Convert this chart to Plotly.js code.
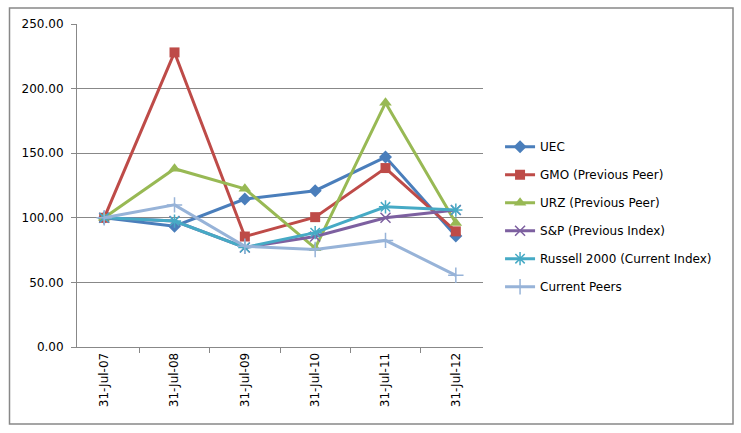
<!DOCTYPE html>
<html>
<head>
<meta charset="utf-8">
<script src="https://cdn.plot.ly/plotly-3.0.1.min.js"></script>
<style>
  html, body { margin: 0; padding: 0; background: #fff; }
  #chart_div { width: 741px; height: 433px; }
</style>
</head>
<body>
<div id="chart_div"></div>
<script>
// dates on the x axis
var dates = ["31-Jul-07", "31-Jul-08", "31-Jul-09", "31-Jul-10", "31-Jul-11", "31-Jul-12"];

// indexed values
var uec     = [100, 93.5, 114.5, 121, 147, 86];
var gmo     = [100, 228, 85.5, 100.5, 138.5, 89.5];
var urz     = [100, 138, 122.5, 76.5, 189, 96];
var sp      = [100, 97.5, 77, 85.5, 100, 106];
var russell = [100, 97.5, 77, 88.5, 108.5, 106];
var peers   = [100, 110, 78, 75.5, 82.5, 55.5];

var yTicks = [0, 50, 100, 150, 200, 250];

function drawChart() {

  var data = [
    {
      type: "scatter", mode: "lines+markers", name: "UEC", legendgroup: "a",
      x: dates, y: uec,
      line: {color: "#4A7EBB", width: 3},
      marker: {symbol: "diamond", size: 10, color: "#4A7EBB"}
    },
    {
      type: "scatter", mode: "lines+markers", name: "GMO (Previous Peer)", legendgroup: "b",
      x: dates, y: gmo,
      line: {color: "#BE4B48", width: 3},
      marker: {symbol: "square", size: 10, color: "#BE4B48"}
    },
    {
      type: "scatter", mode: "lines+markers", name: "URZ (Previous Peer)", legendgroup: "c",
      x: dates, y: urz,
      line: {color: "#98B954", width: 3},
      marker: {symbol: "triangle-up", size: 11, color: "#98B954"}
    },
    {
      type: "scatter", mode: "lines+markers", name: "S&P (Previous Index)", legendgroup: "d",
      x: dates, y: sp,
      line: {color: "#7D60A0", width: 3},
      marker: {symbol: "x-thin-open", size: 10, color: "#7D60A0", line: {width: 1.5, color: "#7D60A0"}}
    },
    {
      type: "scatter", mode: "lines+markers", name: "Russell 2000 (Current Index)", legendgroup: "e",
      x: dates, y: russell,
      line: {color: "#46AAC5", width: 3},
      marker: {symbol: "asterisk-open", size: 11, color: "#46AAC5", line: {width: 1.5, color: "#46AAC5"}}
    },
    {
      type: "scatter", mode: "lines+markers", name: "Current Peers", legendgroup: "f",
      x: dates, y: peers,
      line: {color: "#97B3D8", width: 3},
      marker: {symbol: "cross-thin-open", size: 11, color: "#97B3D8", line: {width: 1.5, color: "#97B3D8"}}
    }
  ];

  var layout = {
    width: 741,
    height: 433,
    margin: {l: 77, r: 258, t: 24, b: 86, pad: 0},
    paper_bgcolor: "#fff",
    plot_bgcolor: "#fff",
    font: {family: "'DejaVu Sans', sans-serif", size: 12, color: "#000"},
    showlegend: true,
    legend: {
      x: 1.042, y: 0.665, xanchor: "left", yanchor: "top",
      font: {size: 12, color: "#000"},
      tracegroupgap: 9,
      itemwidth: 30
    },
    xaxis: {
      type: "category",
      tickangle: -90,
      ticks: "outside", ticklen: 5, tickcolor: "#888",
      tickson: "boundaries",
      showline: true, linecolor: "#888", linewidth: 1,
      showgrid: false, zeroline: false,
      tickfont: {size: 12}
    },
    yaxis: {
      range: [0, 250],
      tickvals: yTicks,
      tickformat: ".2f",
      ticks: "outside", ticklen: 5, tickcolor: "#888",
      ticklabelstandoff: 5,
      showline: true, linecolor: "#888", linewidth: 1,
      showgrid: true, gridcolor: "#888", gridwidth: 1,
      zeroline: false,
      tickfont: {size: 12}
    },
    shapes: [
      {
        type: "rect", xref: "paper", yref: "paper",
        x0: (9.5 - 77) / 406, x1: (733 - 77) / 406,
        y0: (347 - 424) / 323, y1: (347 - 8) / 323,
        line: {color: "#888", width: 1.5}
      }
    ]
  };

  Plotly.newPlot('chart_div', data, layout, {displayModeBar: false});
}

drawChart();
</script>
</body>
</html>
